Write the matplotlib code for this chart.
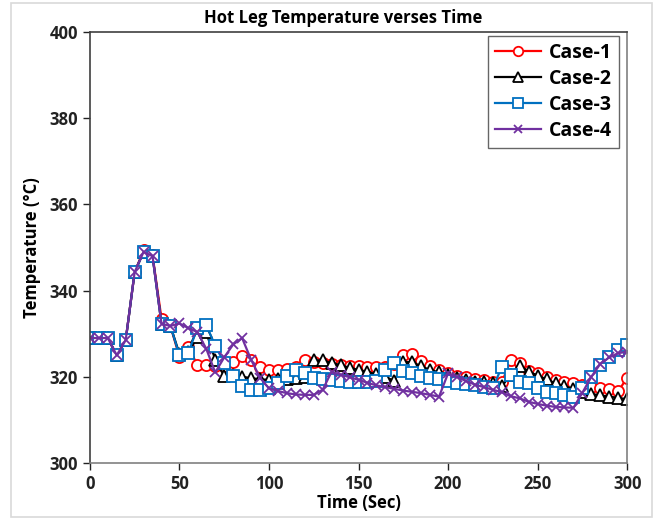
import matplotlib

matplotlib.use("Agg")
import matplotlib.pyplot as plt
import numpy as np
from matplotlib.patches import Rectangle

# time axis, one sample every 5 s
time_s = np.arange(0, 301, 5)

case1 = [329, 329, 329, 325, 328.5, 344.3, 349.4, 348.2, 333.5, 331.8,
         324.6, 327.0, 322.7, 322.7, 322.5, 322.6, 323.5, 324.8, 323.9, 322.3,
         321.6, 321.5, 321.8, 322.3, 323.8, 323.5, 323.2, 323.0, 322.8, 322.6,
         322.4, 322.3, 322.2, 322.2, 323.0, 325.0, 325.3, 323.6, 322.5, 321.6,
         320.8, 320.3, 319.9, 319.5, 319.2, 318.9, 318.7, 323.8, 323.1, 321.3,
         320.8, 320.0, 319.3, 318.8, 318.5, 318.0, 317.6, 317.4, 317.2, 316.6,
         319.8]
case2 = [329, 329, 329, 325, 328.5, 344.3, 349.0, 348.0, 332.3, 331.8,
         325.3, 325.7, 329.2, 330.3, 324.0, 320.2, 320.4, 320.0, 319.7, 319.4,
         319.3, 319.5, 319.6, 319.7, 320.0, 323.8, 323.8, 323.2, 322.7, 322.1,
         321.6, 321.1, 320.6, 320.0, 319.0, 323.4, 323.4, 322.4, 321.6, 321.0,
         320.5, 319.8, 319.3, 318.9, 318.8, 318.6, 317.8, 320.5, 322.6, 321.2,
         320.3, 319.4, 318.5, 317.8, 317.2, 316.5, 316.0, 315.7, 315.4, 315.1,
         314.8]
case3 = [329, 329, 329, 325, 328.5, 344.3, 349.0, 348.0, 332.3, 331.8,
         325.0, 325.6, 331.3, 332.0, 327.2, 323.3, 320.2, 317.8, 317.0, 316.9,
         317.3, 318.5, 320.3, 321.6, 320.8, 319.8, 319.4, 319.2, 319.0, 318.8,
         318.8, 318.8, 319.0, 321.6, 323.3, 321.3, 320.8, 320.2, 319.8, 319.5,
         319.0, 318.6, 318.4, 318.1, 317.6, 317.4, 322.3, 320.4, 318.8, 318.5,
         317.4, 316.5, 316.2, 315.8, 315.3, 317.5, 320.0, 322.7, 324.6, 326.2,
         327.4]
case4 = [329, 329, 329, 325, 328.5, 344.3, 349.0, 348.0, 332.3, 331.8,
         332.4, 331.3, 330.4, 326.5, 321.0, 324.5, 327.5, 329.0, 324.0, 319.8,
         317.3, 316.7, 316.2, 315.9, 315.8, 315.8, 317.0, 321.2, 320.5, 319.9,
         319.3, 318.6, 318.0, 317.6, 317.2, 316.8, 316.5, 316.2, 315.8, 315.4,
         320.8, 320.0, 319.0, 318.2, 317.6, 317.0, 316.4, 315.5, 315.0, 314.2,
         313.7, 313.3, 313.0, 312.9, 312.8, 316.3, 320.0, 323.0, 324.5, 325.5,
         325.8]

series = [
    ("Case-1", case1, "#FF0000", "o"),
    ("Case-2", case2, "#000000", "^"),
    ("Case-3", case3, "#0070C0", "s"),
    ("Case-4", case4, "#7030A0", "x"),
]

plt.rcParams["font.family"] = ["Open Sans", "DejaVu Sans"]
plt.rcParams["font.weight"] = "bold"

fig = plt.figure(figsize=(6.56, 5.19), dpi=100)
ax = fig.add_axes([0.137, 0.108, 0.819, 0.830])

# light chart-area border, as in the spreadsheet export
fig.patches.append(Rectangle((0.017, 0.004), 0.977, 0.99, transform=fig.transFigure,
                             fill=False, edgecolor="#D9D9D9", linewidth=1.2))

for name, vals, color, mk in series:
    if mk == "x":
        ax.plot(time_s, vals, color=color, marker=mk, markersize=7,
                markeredgewidth=1.3, linewidth=1.6, label=name)
    else:
        ax.plot(time_s, vals, color=color, marker=mk, markersize=8,
                markerfacecolor="white", markeredgewidth=1.3, linewidth=1.6,
                label=name)

ax.set_xlim(0, 300)
ax.set_ylim(300, 400)
ax.set_xticks(range(0, 301, 50))
ax.set_yticks(range(300, 401, 20))
ax.tick_params(direction="out", length=5, width=1, labelsize=12, colors="#222222")
for lab in ax.get_xticklabels() + ax.get_yticklabels():
    lab.set_fontweight("bold")

ax.spines["left"].set_color("#404040")
ax.spines["bottom"].set_color("#808080")
ax.spines["top"].set_color("#404040")
ax.spines["right"].set_color("#808080")
for s in ax.spines.values():
    s.set_linewidth(1.2)

# title sits over the chart area centre, a little left of the axes centre
fig.text(0.523, 0.965, "Hot Leg Temperature verses Time", fontsize=12,
         fontweight="bold", ha="center", va="center")
ax.set_xlabel("Time (Sec)", fontsize=12, fontweight="bold", labelpad=1)
ax.set_ylabel("Temperature (\u00b0C)", fontsize=12, fontweight="bold", labelpad=6)

leg = ax.legend(loc="upper right", bbox_to_anchor=(0.985, 0.99), fontsize=14,
                frameon=True, fancybox=False, handlelength=2.4,
                handletextpad=0.4, borderpad=0.35, labelspacing=0.3,
                borderaxespad=0, markerscale=0.85)
leg.get_frame().set_edgecolor("#404040")
leg.get_frame().set_linewidth(1.0)
for t in leg.get_texts():
    t.set_fontweight("bold")

fig.savefig("out.png", dpi=100)
plt.close(fig)
